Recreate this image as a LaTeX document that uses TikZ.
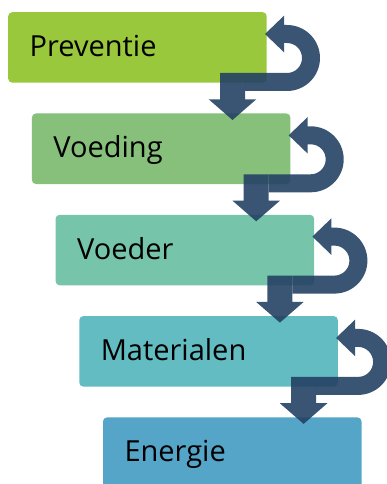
\documentclass[tikz,border=0pt]{standalone}
\usepackage{fontspec}
\setmainfont{Open Sans}
\definecolor{c0}{HTML}{9AC83C}
\definecolor{c1}{HTML}{86C07A}
\definecolor{c2}{HTML}{76C4AA}
\definecolor{c3}{HTML}{62BCC2}
\definecolor{c4}{HTML}{55A5C8}
\definecolor{arr}{RGB}{36,66,100}
\begin{document}
\begin{tikzpicture}[x=1pt,y=1pt,yscale=-1,
  stepbox/.style={rectangle, rounded corners=4pt, draw=none, inner sep=0pt,
    minimum width=258.5pt, minimum height=70.5pt, anchor=north west},
  arrowshape/.style={fill=arr, fill opacity=0.9, draw=none},
  steplabel/.style={anchor=base west, inner sep=0pt, text=black,
    font=\fontsize{29}{34}\selectfont}]
\useasboundingbox (0,0) rectangle (387,484);
\clip (0,0) rectangle (387,484);
\foreach \i/\t in {0/Preventie,1/Voeding,2/Voeder,3/Materialen,4/Energie}{
  \pgfmathsetmacro\bx{8+23.7*\i}
  \pgfmathsetmacro\by{12+101.3*\i}
  \node[stepbox, fill=c\i] (box\i) at (\bx,\by) {};
  \node[steplabel] (lab\i) at ({\bx+21.5},{\by+44.5}) {\t};
}
\foreach \i in {0,1,2,3}{
  \pgfmathsetmacro\bx{8+23.7*\i}
  \pgfmathsetmacro\by{12+101.3*\i}
  % down arrow
  \fill[arrowshape] ({\bx+212},{\by+61}) -- ({\bx+237},{\by+61})
    -- ({\bx+237},{\by+87.3}) -- ({\bx+248.3},{\by+87.3})
    -- ({\bx+224.5},{\by+108}) -- ({\bx+200.7},{\by+87.3})
    -- ({\bx+212},{\by+87.3}) -- cycle;
  % u-turn arrow
  \fill[arrowshape] ({\bx+237},{\by+61}) -- ({\bx+279},{\by+61})
    arc[start angle=90, end angle=-90, radius=15]
    -- ({\bx+276},{\by+31}) -- ({\bx+276},{\by+40.3})
    -- ({\bx+257},{\by+22}) -- ({\bx+276},{\by+3.7})
    -- ({\bx+276},{\by+13}) -- ({\bx+279},{\by+13})
    arc[start angle=-90, end angle=90, radius=33]
    -- ({\bx+237},{\by+79}) -- cycle;
}
\end{tikzpicture}
\end{document}
